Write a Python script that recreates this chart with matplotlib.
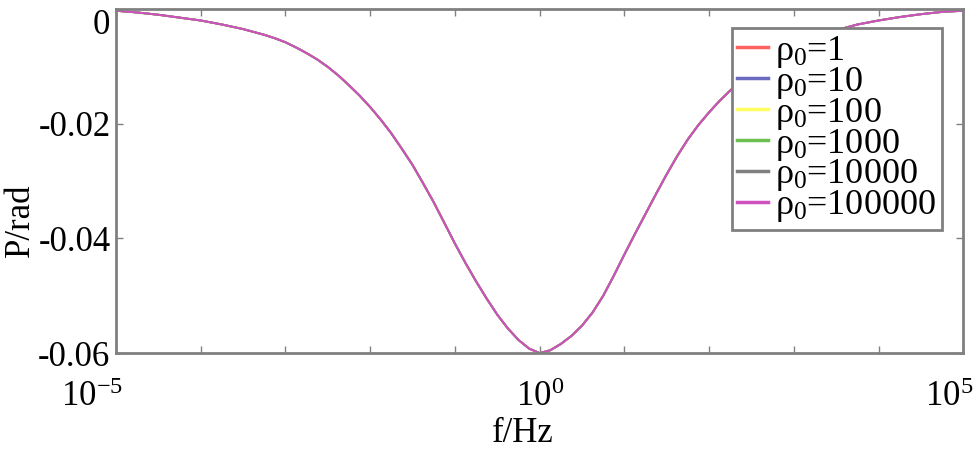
import numpy as np
import matplotlib
matplotlib.use('Agg')
import matplotlib.pyplot as plt
import matplotlib.transforms as mtransforms
from matplotlib.ticker import FixedLocator, FuncFormatter

# resistivity values (legend) - all curves coincide
rho0 = [1, 10, 100, 1000, 10000, 100000]
colors = ['#ff6060', '#6a6ac0', '#ffff60', '#6cc050', '#808080', '#d050c0']

# log10(f) and phase
log_f = [-5.0, -4.75, -4.5, -4.25, -4.0, -3.75, -3.5, -3.25, -3.125, -3.0,
         -2.875, -2.75, -2.625, -2.5, -2.375, -2.25, -2.125, -2.0, -1.875,
         -1.75, -1.625, -1.5, -1.375, -1.25, -1.125, -1.0, -0.875, -0.75,
         -0.625, -0.5, -0.375, -0.25, -0.125, 0.0,
         0.125, 0.25, 0.375, 0.5, 0.625, 0.75, 0.875, 1.0, 1.125, 1.25, 1.375,
         1.5, 1.625, 1.75, 1.875, 2.0, 2.125, 2.25, 2.5, 2.75, 3.0, 3.25, 3.5,
         3.75, 4.0, 4.25, 4.5, 4.75, 5.0]
phase = [-0.0003, -0.0006, -0.0010, -0.0015, -0.0020, -0.0027, -0.0035, -0.0045,
         -0.0051, -0.0058, -0.0067, -0.0077, -0.0088, -0.0101, -0.0116, -0.0133,
         -0.0151, -0.0171, -0.0193, -0.0217, -0.0244, -0.0272, -0.0304, -0.0337,
         -0.0373, -0.0409, -0.0443, -0.0475, -0.0505, -0.0533, -0.0557, -0.0577,
         -0.0592, -0.0600,
         -0.0595, -0.0584, -0.0570, -0.0552, -0.0529, -0.0500, -0.0465, -0.0428,
         -0.0392, -0.0357, -0.0322, -0.0288, -0.0256, -0.0227, -0.0202, -0.0180,
         -0.0160, -0.0142, -0.0110, -0.0084, -0.0064, -0.0049, -0.0037, -0.0027,
         -0.0020, -0.0014, -0.0009, -0.0005, -0.0003]

plt.rcParams['font.family'] = ['Liberation Serif', 'DejaVu Serif']
plt.rcParams['mathtext.fontset'] = 'custom'
plt.rcParams['mathtext.rm'] = 'Liberation Serif'
plt.rcParams['mathtext.it'] = 'Liberation Serif'

fig = plt.figure(figsize=(9.75, 4.51), dpi=100)
ax = fig.add_axes([0.119, 0.217, 0.869, 0.763])

freq = 10.0 ** np.array(log_f)
for r, c in zip(rho0, colors):
    ax.plot(freq, phase, color=c, lw=1.4, label=r'$\rho_0$=%d' % r)

ax.set_xscale('log')
ax.set_xlim(1e-5, 1e5)
ax.set_ylim(-0.06, 0)
ax.xaxis.set_major_locator(FixedLocator([10.0 ** k for k in range(-5, 6)]))
ax.xaxis.set_minor_locator(FixedLocator([]))

def xfmt(v, pos):
    k = int(round(np.log10(v)))
    if k in (-5, 0, 5):
        return r'$10^{%d}$' % k
    return ''
ax.xaxis.set_major_formatter(FuncFormatter(xfmt))
ax.set_yticks([0, -0.02, -0.04, -0.06])
ax.set_yticklabels(['0', '-0.02', '-0.04', '-0.06'])

ax.tick_params(direction='in', top=True, right=True, length=5, width=1,
               color='#808080', labelsize=25)
ax.tick_params(axis='x', pad=20)
ax.tick_params(axis='y', pad=4)
for s in ax.spines.values():
    s.set_color('#808080')
    s.set_linewidth(2)

# end labels sit a little left of their ticks
xl = ax.get_xticklabels()
for i, dx in [(0, 7), (len(xl) - 1, 10)]:
    xl[i].set_horizontalalignment('right')
    xl[i].set_transform(xl[i].get_transform() +
                        mtransforms.ScaledTranslation(dx / 100, 0, fig.dpi_scale_trans))
yl = ax.get_yticklabels()
yl[0].set_verticalalignment('top')

ax.set_xlabel('f/Hz', fontsize=25)
ax.set_ylabel('P/rad', fontsize=25)
ax.xaxis.set_label_coords(0.4805, -0.186)
ax.yaxis.set_label_coords(-0.093, 0.387)

leg = ax.legend(loc='upper left', bbox_to_anchor=(0.727, 0.944), fontsize=26,
                handlelength=0.85, handletextpad=0.2, labelspacing=-0.14,
                borderpad=0.15, fancybox=False, framealpha=1, borderaxespad=0)
leg.get_frame().set_edgecolor('#808080')
leg.get_frame().set_linewidth(2)
for h in leg.get_lines():
    h.set_linewidth(2.5)

fig.savefig('out.png', dpi=100)
